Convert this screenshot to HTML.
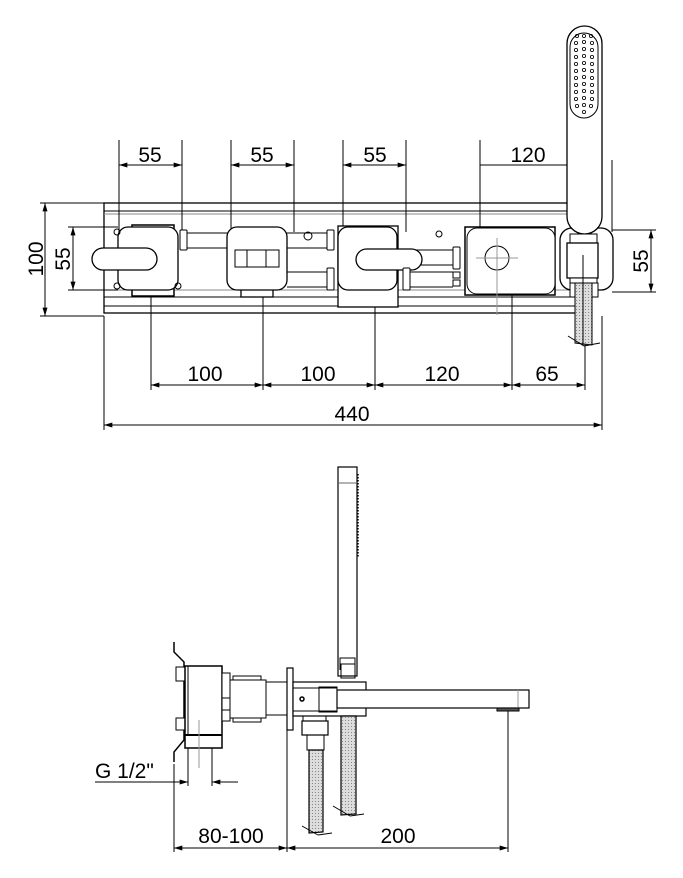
<!DOCTYPE html>
<html><head><meta charset="utf-8"><style>
html,body{margin:0;padding:0;background:#fff;}
svg{display:block;}
text{font-family:"Liberation Sans",Arial,sans-serif;font-size:21px;fill:#000;}
</style></head><body>
<svg width="683" height="878" viewBox="0 0 683 878" xmlns="http://www.w3.org/2000/svg">
<defs>
<marker id="a" viewBox="0 0 10 6" refX="10" refY="3" markerWidth="12" markerHeight="5" orient="auto-start-reverse" markerUnits="userSpaceOnUse"><path d="M0,0 L10,3 L0,6z" fill="#000"/></marker>
<pattern id="dots" width="3" height="3" patternUnits="userSpaceOnUse"><rect width="3" height="3" fill="#ddd"/><rect width="1" height="1" fill="#888"/></pattern>
</defs>
<g fill="none" stroke="#000" stroke-width="1">
<!-- TOP VIEW plate -->
<rect x="104" y="203" width="481" height="110" stroke-width="1.3"/>
<line x1="104" y1="211" x2="585" y2="211"/>
<line x1="104" y1="214" x2="585" y2="214" stroke="#888"/>
<line x1="104" y1="290" x2="585" y2="290" stroke="#888"/>
<line x1="104" y1="297" x2="585" y2="297"/>
<line x1="104" y1="306" x2="585" y2="306"/>
<!-- dims left -->
<line x1="40" y1="203" x2="104" y2="203"/>
<line x1="40" y1="316" x2="104" y2="316"/>
<line x1="45" y1="203" x2="45" y2="316" marker-start="url(#a)" marker-end="url(#a)"/>
<line x1="68" y1="227" x2="118" y2="227"/>
<line x1="68" y1="290" x2="118" y2="290"/>
<line x1="73" y1="227" x2="73" y2="290" marker-start="url(#a)" marker-end="url(#a)"/>
<!-- dims right -->
<line x1="612" y1="230" x2="656" y2="230"/>
<line x1="612" y1="292" x2="656" y2="292"/>
<line x1="651" y1="230" x2="651" y2="292" marker-start="url(#a)" marker-end="url(#a)"/>
<!-- top dims -->
<g>
<line x1="119" y1="140" x2="119" y2="240"/><line x1="182" y1="140" x2="182" y2="232"/>
<line x1="119" y1="165" x2="182" y2="165" marker-start="url(#a)" marker-end="url(#a)"/>
<line x1="231" y1="140" x2="231" y2="232"/><line x1="294" y1="140" x2="294" y2="232"/>
<line x1="231" y1="165" x2="294" y2="165" marker-start="url(#a)" marker-end="url(#a)"/>
<line x1="343" y1="140" x2="343" y2="232"/><line x1="406" y1="140" x2="406" y2="232"/>
<line x1="343" y1="165" x2="406" y2="165" marker-start="url(#a)" marker-end="url(#a)"/>
<line x1="480" y1="140" x2="480" y2="232"/><line x1="612" y1="160" x2="612" y2="232"/>
<line x1="480" y1="165" x2="602" y2="165" marker-end="url(#a)"/>
</g>
<!-- bottom dims -->
<line x1="151" y1="290" x2="151" y2="390"/>
<line x1="263" y1="297" x2="263" y2="390"/>
<line x1="375" y1="307" x2="375" y2="390"/>
<line x1="512" y1="266" x2="512" y2="390"/>
<line x1="585" y1="313" x2="585" y2="390"/>
<line x1="151" y1="385" x2="585" y2="385"/>
<line x1="151" y1="385" x2="263" y2="385" marker-start="url(#a)" marker-end="url(#a)"/>
<line x1="263" y1="385" x2="375" y2="385" marker-start="url(#a)" marker-end="url(#a)"/>
<line x1="375" y1="385" x2="512" y2="385" marker-start="url(#a)" marker-end="url(#a)"/>
<line x1="512" y1="385" x2="585" y2="385" marker-start="url(#a)" marker-end="url(#a)"/>
<line x1="104" y1="316" x2="104" y2="430"/>
<line x1="602" y1="316" x2="602" y2="430"/>
<line x1="104" y1="425" x2="602" y2="425" marker-start="url(#a)" marker-end="url(#a)"/>
<!-- pipes -->
<line x1="187" y1="233" x2="327" y2="233"/><line x1="187" y1="248" x2="327" y2="248"/>
<line x1="287" y1="272" x2="327" y2="272"/><line x1="287" y1="287" x2="327" y2="287"/>
<line x1="410" y1="250" x2="453" y2="250"/><line x1="410" y1="265" x2="453" y2="265"/>
<line x1="410" y1="272" x2="453" y2="272"/><line x1="410" y1="287" x2="453" y2="287"/>
<!-- valve 1 -->
<rect x="132" y="225" width="42" height="71" fill="#fff" stroke-width="1.5"/>
<rect x="118" y="227" width="60" height="63" rx="10" fill="#fff" stroke-width="1.3"/>
<circle cx="117" cy="232" r="3"/><circle cx="117" cy="286" r="3"/><circle cx="178" cy="286" r="3"/>
<rect x="92" y="248" width="65" height="22" rx="11" fill="#fff" stroke-width="1.3"/>
<rect x="180" y="230" width="7" height="20" rx="1" fill="#fff"/>
<!-- valve 2 -->
<rect x="241" y="286" width="32" height="11" fill="#fff" stroke-width="1.3"/>
<rect x="227" y="227" width="60" height="63" rx="10" fill="#fff" stroke-width="1.3"/>
<rect x="235" y="250" width="44" height="17" fill="#fff"/>
<line x1="247" y1="250" x2="247" y2="267"/><line x1="266" y1="250" x2="266" y2="267"/>
<circle cx="308" cy="236" r="4"/>
<!-- valve 3 -->
<rect x="338" y="226" width="60" height="81" fill="#fff" stroke-width="1.3"/>
<rect x="338" y="227" width="59" height="63" rx="10" fill="#fff" stroke-width="1.3"/>
<rect x="356" y="249" width="66" height="21" rx="10.5" fill="#fff" stroke-width="1.3"/>
<rect x="327" y="230" width="7" height="20" rx="1" fill="#fff"/>
<rect x="327" y="268" width="7" height="22" rx="1" fill="#fff"/>
<rect x="403" y="268" width="7" height="22" rx="1" fill="#fff"/>
<circle cx="439" cy="234" r="3"/>
<!-- element 4 -->
<rect x="465" y="227" width="90" height="68" fill="#fff" stroke-width="1.5"/>
<rect x="467" y="228" width="88" height="66" rx="10" fill="#fff"/>
<circle cx="497" cy="258" r="12"/>
<line x1="476" y1="258" x2="518" y2="258" stroke="#999"/>
<line x1="497" y1="238" x2="497" y2="315" stroke="#999"/>
<rect x="453" y="247" width="7" height="22" rx="1" fill="#fff"/>
<rect x="453" y="272" width="7" height="6" fill="#fff"/><rect x="453" y="280" width="7" height="6" fill="#fff"/>
<!-- shower holder top -->
<rect x="560" y="228" width="53" height="62" rx="12" fill="#fff" stroke-width="1.3"/>
<rect x="567" y="26" width="35" height="208" rx="17.5" fill="#fff" stroke-width="1.3"/>
<rect x="570" y="33" width="28" height="85" rx="14" stroke-width="1"/>
<rect x="570" y="234" width="27" height="9" fill="#fff"/>
<rect x="567" y="243" width="31" height="35" fill="#fff" stroke-width="1.3"/>
<rect x="570" y="278" width="27" height="5" fill="#fff"/>
<rect x="570" y="283" width="6" height="14" fill="#fff"/><rect x="592" y="283" width="6" height="14" fill="#fff"/>
<path d="M575,283 L575,343 L592,345 L592,283z" fill="url(#dots)"/>
<line x1="568" y1="336" x2="584" y2="346"/><line x1="584" y1="346" x2="600" y2="343"/>
<line x1="583" y1="255" x2="583" y2="346"/>
</g>
<g fill="none" stroke="#000" stroke-width="0.8">
<circle cx="577" cy="36" r="1.6"/><circle cx="584" cy="36" r="1.6"/><circle cx="591" cy="36" r="1.6"/>
<circle cx="576" cy="43" r="1.6"/><circle cx="584" cy="42" r="1.6"/><circle cx="592" cy="43" r="1.6"/>
<circle cx="576" cy="50" r="1.6"/><circle cx="584" cy="49" r="1.6"/><circle cx="592" cy="50" r="1.6"/>
<circle cx="576" cy="57" r="1.6"/><circle cx="584" cy="56" r="1.6"/><circle cx="592" cy="57" r="1.6"/>
<circle cx="576" cy="64" r="1.6"/><circle cx="584" cy="63" r="1.6"/><circle cx="592" cy="64" r="1.6"/>
<circle cx="576" cy="71" r="1.6"/><circle cx="584" cy="70" r="1.6"/><circle cx="592" cy="71" r="1.6"/>
<circle cx="576" cy="78" r="1.6"/><circle cx="584" cy="77" r="1.6"/><circle cx="592" cy="78" r="1.6"/>
<circle cx="576" cy="85" r="1.6"/><circle cx="584" cy="84" r="1.6"/><circle cx="592" cy="85" r="1.6"/>
<circle cx="576" cy="92" r="1.6"/><circle cx="584" cy="91" r="1.6"/><circle cx="592" cy="92" r="1.6"/>
<circle cx="576" cy="99" r="1.6"/><circle cx="584" cy="98" r="1.6"/><circle cx="592" cy="99" r="1.6"/>
<circle cx="577" cy="106" r="1.6"/><circle cx="584" cy="105" r="1.6"/><circle cx="591" cy="106" r="1.6"/>
<circle cx="584" cy="112" r="1.6"/>
</g>
<text x="150" y="162" text-anchor="middle">55</text>
<text x="262" y="162" text-anchor="middle">55</text>
<text x="375" y="162" text-anchor="middle">55</text>
<text x="528" y="162" text-anchor="middle">120</text>
<text transform="translate(43,259) rotate(-90)" text-anchor="middle">100</text>
<text transform="translate(70,259) rotate(-90)" text-anchor="middle">55</text>
<text transform="translate(648,261) rotate(-90)" text-anchor="middle">55</text>
<text x="205" y="381" text-anchor="middle">100</text>
<text x="318" y="381" text-anchor="middle">100</text>
<text x="442" y="381" text-anchor="middle">120</text>
<text x="547" y="381" text-anchor="middle">65</text>
<text x="352" y="421" text-anchor="middle">440</text>

<!-- SIDE VIEW -->
<g fill="none" stroke="#000" stroke-width="1">
<path d="M174,642 L174,652 L184,662 L184,740 L174,752 L174,762" stroke-width="1.5"/>
<rect x="176" y="667" width="9" height="14" fill="#fff"/>
<rect x="176" y="718" width="9" height="12" fill="#fff"/>
<rect x="185" y="666" width="37" height="82" fill="#fff" stroke-width="1.5"/>
<line x1="185" y1="735" x2="222" y2="735" stroke-width="2"/>
<line x1="188" y1="666" x2="188" y2="735"/>
<rect x="222" y="673" width="8" height="48" fill="#fff"/>
<line x1="222" y1="698" x2="230" y2="698"/><line x1="222" y1="710" x2="230" y2="710"/>
<rect x="230" y="680" width="36" height="38" fill="#fff"/>
<rect x="233" y="676" width="28" height="4"/><rect x="233" y="718" width="28" height="4"/>
<rect x="266" y="682" width="21" height="33" fill="#fff"/>
<rect x="287" y="668" width="6" height="62" fill="#fff" stroke-width="1.2"/>
<rect x="338" y="467" width="19" height="209" fill="#fff" stroke-width="1.2"/>
<line x1="339" y1="483" x2="356" y2="483" stroke="#999" stroke-width="1.5"/>
<line x1="358" y1="474" x2="358" y2="557" stroke-dasharray="1.5,1.5" stroke-width="1.5"/>
<rect x="341" y="664" width="14" height="14"/>
<path d="M340,670 L340,658 L355,658 L355,670"/>
<rect x="293" y="682" width="73" height="34" fill="#fff" stroke-width="1.2"/>
<rect x="293" y="688" width="44" height="23"/>
<rect x="319" y="687" width="18" height="25"/>
<circle cx="302" cy="699" r="2" stroke-width="1.5"/>
<rect x="337" y="690" width="192" height="18" fill="#fff" stroke-width="1.2"/>
<line x1="518" y1="690" x2="518" y2="708" stroke="#999"/>
<rect x="497" y="708" width="22" height="3" fill="#555"/>
<rect x="303" y="716" width="23" height="5"/>
<rect x="302" y="721" width="26" height="14" fill="#fff" stroke-width="1.2"/>
<rect x="307" y="735" width="17" height="15"/>
<path d="M309,750 L309,833 L323,832 L323,750z" fill="url(#dots)" stroke-width="1.2"/>
<line x1="302" y1="826" x2="318" y2="835"/><line x1="318" y1="835" x2="332" y2="833"/>
<path d="M341,716 L341,815 L356,814 L356,716z" fill="url(#dots)" stroke-width="1.2"/>
<line x1="333" y1="806" x2="350" y2="816"/><line x1="350" y1="816" x2="364" y2="814"/>
<!-- dims -->
<line x1="188" y1="748" x2="188" y2="786"/>
<line x1="212" y1="748" x2="212" y2="786"/>
<line x1="199" y1="720" x2="199" y2="768" stroke="#999"/>
<line x1="95" y1="782" x2="188" y2="782" marker-end="url(#a)"/>
<line x1="238" y1="782" x2="212" y2="782" marker-end="url(#a)"/>
<line x1="174" y1="764" x2="174" y2="852"/>
<line x1="287" y1="730" x2="287" y2="852"/>
<line x1="508" y1="711" x2="508" y2="852"/>
<line x1="174" y1="848" x2="287" y2="848" marker-start="url(#a)" marker-end="url(#a)"/>
<line x1="287" y1="848" x2="508" y2="848" marker-start="url(#a)" marker-end="url(#a)"/>
</g>
<text x="95" y="778">G 1/2"</text>
<text x="231" y="843" text-anchor="middle">80-100</text>
<text x="398" y="843" text-anchor="middle">200</text>
</svg>
</body></html>
